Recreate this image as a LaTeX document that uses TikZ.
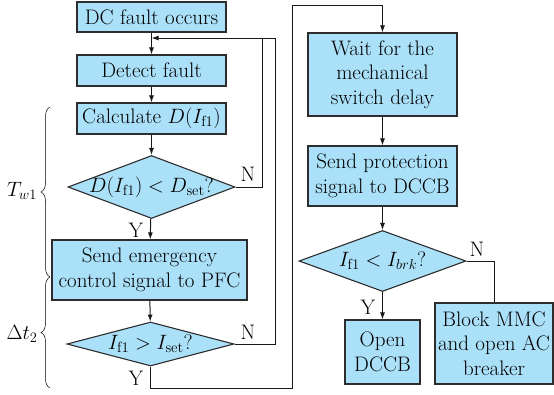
\documentclass[tikz,border=0pt]{standalone}
\usepackage{fontspec}
\usetikzlibrary{shapes.geometric,arrows.meta,decorations.pathreplacing}
\definecolor{boxfill}{RGB}{171,224,249}
\definecolor{boxline}{RGB}{45,45,45}
\newcommand{\ff}{\mathrm{f1}}
\newcommand{\zerowd}[1]{\makebox[0pt][c]{#1}}
\begin{document}
\begin{tikzpicture}[x=1pt,y=-1pt,
  font=\fontsize{21}{24.5}\selectfont,
  procbox/.style={draw=boxline, fill=boxfill, line width=1.1pt, rectangle, inner sep=0pt, align=center},
  decbox/.style={draw=boxline, fill=boxfill, line width=1.1pt, diamond, inner sep=0pt, aspect=2.6},
  conn/.style={line width=1pt, draw=black!90},
  arr/.style={conn, -{Latex[length=7pt,width=5pt]}},
  lbl/.style={inner sep=0pt},
  bracestyle/.style={line width=0.5pt, decorate, decoration={brace, amplitude=9pt}}]
\useasboundingbox (0,0) rectangle (554,394);

% left column
\node[procbox, minimum width=149pt, minimum height=30pt] (dc) at (151.5,17) {DC fault occurs};
\node[procbox, minimum width=149pt, minimum height=31pt] (det) at (151.5,70.5) {Detect fault};
\node[procbox, minimum width=149pt, minimum height=31pt] (calc) at (151.5,118.5) {Calculate $D(I_{\ff})$};
\node[decbox, minimum width=167pt, minimum height=63pt] (d1) at (151.5,187) {\zerowd{$D(I_{\ff}) < D_{\mathrm{set}}$?}};
\node[procbox, minimum width=195pt, minimum height=60pt] (emg) at (149.5,270) {Send emergency\\control signal to PFC};
\node[decbox, minimum width=167pt, minimum height=44pt] (d2) at (150.5,344) {\zerowd{$I_{\ff} > I_{\mathrm{set}}$?}};

% right column
\node[procbox, minimum width=149pt, minimum height=83pt] (wait) at (382.5,74.5) {Wait for the\\mechanical\\switch delay};
\node[procbox, minimum width=149pt, minimum height=60pt] (prot) at (382.5,176) {Send protection\\signal to DCCB};
\node[decbox, minimum width=167pt, minimum height=61pt] (d3) at (382.5,261) {\zerowd{$I_{\ff} < I_{brk}$?}};
\node[procbox, minimum width=75pt, minimum height=64pt] (open) at (382.5,352) {Open\\DCCB};
\node[procbox, minimum width=118pt, minimum height=81pt] (block) at (494,343.5) {Block MMC\\and open AC\\breaker};

% coordinates for routing
\coordinate (join) at (151.5,38);
\coordinate (loopA) at (262,38);
\coordinate (loopB) at (275,38);
\coordinate (ydown) at (150.5,388);
\coordinate (yright) at (292,388);
\coordinate (ytop) at (292,5);

% connectors
\draw[arr] (dc) -- (det);
\draw[arr] (det) -- (calc);
\draw[arr] (calc) -- (d1);
\draw[arr] (d1) -- (emg);
\draw[arr] (emg) -- (d2);
\draw[conn] (d1.east) -| (loopA);
\draw[conn] (d2.east) -| (loopB);
\draw[arr] (loopB) -- (join);
\draw[arr] (d2.south) -- (ydown) -- (yright) -- (ytop) -| (wait.north);
\draw[arr] (wait) -- (prot);
\draw[arr] (prot) -- (d3);
\draw[arr] (d3) -- (open);
\draw[conn] (d3.east) -| (block.north);

% labels
\node[lbl] (n1) at (248,174) {N};
\node[lbl] (y1) at (136,230) {Y};
\node[lbl] (n2) at (248,332) {N};
\node[lbl] (y2) at (136,378) {Y};
\node[lbl] (n3) at (477,249) {N};
\node[lbl] (y3) at (368,307) {Y};

% braces
\coordinate (b1top) at (50,107);
\coordinate (b1bot) at (50,277);
\coordinate (b2bot) at (50,388);
\draw[bracestyle] (b1bot) -- (b1top);
\draw[bracestyle] (b2bot) -- (b1bot);
\node[lbl] (tw) at (22,191) {$T_{w1}$};
\node[lbl] (dt) at (22,334) {$\Delta t_2$};
\end{tikzpicture}
\end{document}
